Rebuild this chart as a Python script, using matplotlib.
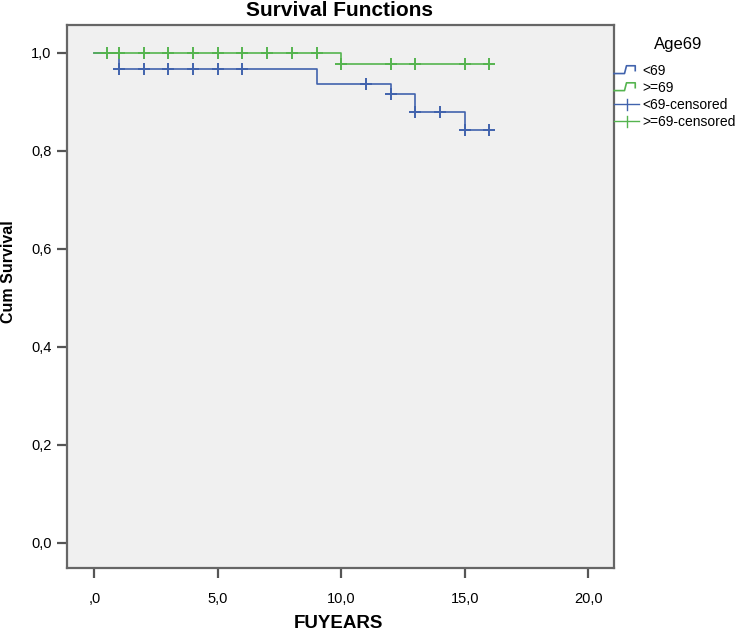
import numpy as np
import matplotlib
matplotlib.use("Agg")
import matplotlib.pyplot as plt
from matplotlib.legend_handler import HandlerBase
from matplotlib.lines import Line2D

plt.rcParams['font.family'] = ['Liberation Sans', 'DejaVu Sans']

# Data (Kaplan-Meier step functions)
young_times = [0, 1, 9, 12, 13, 15, 16]
young_surv = [1.0, 0.968, 0.936, 0.917, 0.880, 0.842, 0.842]
young_censored = [1, 2, 3, 4, 5, 6, 11, 12, 13, 14, 15, 16]

old_times = [0, 10, 16]
old_surv = [1.0, 0.977, 0.977]
old_censored = [0.5, 1, 2, 3, 4, 5, 6, 7, 8, 9, 10, 12, 13, 15, 16]

x_ticks = [0, 5, 10, 15, 20]
x_labels = [",0", "5,0", "10,0", "15,0", "20,0"]
y_ticks = [0.0, 0.2, 0.4, 0.6, 0.8, 1.0]
y_labels = ["0,0", "0,2", "0,4", "0,6", "0,8", "1,0"]

blue = "#4163ad"
green = "#55b44f"

W, H = 742, 633


def surv_at(times, surv, t):
    idx = np.searchsorted(times, t, side='right') - 1
    return np.array(surv)[idx]


fig = plt.figure(figsize=(W / 100, H / 100), dpi=100)
ax = fig.add_axes([66.7 / W, 1 - 568 / H, (614 - 66.7) / W, (568 - 25) / H])
ax.set_facecolor("#f0f0f0")

ax.step(young_times, young_surv, where='post', color=blue, lw=1.2, zorder=3)
ax.step(old_times, old_surv, where='post', color=green, lw=1.2, zorder=3)
ax.plot(young_censored, surv_at(young_times, young_surv, young_censored),
        ls='none', marker='+', ms=9, mew=1.4, color=blue, zorder=4)
ax.plot(old_censored, surv_at(old_times, old_surv, old_censored),
        ls='none', marker='+', ms=9, mew=1.4, color=green, zorder=4)

ax.set_xlim(-1.12, 21.05)
ax.set_ylim(-0.0516, 1.057)
ax.set_xticks(x_ticks)
ax.set_xticklabels(x_labels, fontsize=10.5)
ax.set_yticks(y_ticks)
ax.set_yticklabels(y_labels, fontsize=10.5)
ax.tick_params(axis='both', direction='out', length=7, width=1.6, color="#555555")
ax.tick_params(axis='x', pad=10)
ax.tick_params(axis='y', pad=4)
ax.tick_params(top=False, right=False)
for s in ax.spines.values():
    s.set_color("#666666")
    s.set_linewidth(1.6)

fig.text(339 / W, 1 - 10 / H, "Survival Functions", fontsize=15,
         fontweight='bold', ha='center', va='center')
fig.text(338 / W, 1 - 624 / H, "FUYEARS", fontsize=13.5,
         fontweight='bold', ha='center', va='center')
fig.text(9 / W, 1 - 272 / H, "Cum Survival", fontsize=11.5,
         fontweight='bold', ha='center', va='center', rotation=90)
fig.text(678 / W, 1 - 45 / H, "Age69", fontsize=12, ha='center', va='center')


class StepHandler(HandlerBase):
    def create_artists(self, legend, orig_handle, xdescent, ydescent, width,
                       height, fontsize, trans):
        c = orig_handle.get_color()
        x0 = -xdescent
        y0 = -ydescent
        xs = [x0, x0 + width * 0.42, x0 + width * 0.5, x0 + width * 0.85,
              x0 + width * 0.85]
        ys = [y0 + height * 0.15, y0 + height * 0.15, y0 + height * 0.95,
              y0 + height * 0.95, y0 + height * 0.45]
        return [Line2D(xs, ys, color=c, lw=1.2, transform=trans)]


class CensHandler(HandlerBase):
    def create_artists(self, legend, orig_handle, xdescent, ydescent, width,
                       height, fontsize, trans):
        c = orig_handle.get_color()
        y = -ydescent + height * 0.5
        l1 = Line2D([-xdescent, -xdescent + width], [y, y], color=c, lw=1.0,
                    transform=trans)
        xm = -xdescent + width * 0.5
        l2 = Line2D([xm, xm], [-ydescent - height * 0.05, -ydescent + height * 1.05],
                    color=c, lw=1.0, transform=trans)
        return [l1, l2]


class StepH(Line2D):
    pass


class CensH(Line2D):
    pass


handles = [StepH([], [], color=blue), StepH([], [], color=green),
           CensH([], [], color=blue), CensH([], [], color=green)]
labels = ["<69", ">=69", "<69-censored", ">=69-censored"]

leg = fig.legend(handles, labels,
                 handler_map={StepH: StepHandler(), CensH: CensHandler()},
                 loc='upper left', bbox_to_anchor=(614 / W, 1 - 64 / H),
                 frameon=False, fontsize=10, handlelength=1.8,
                 handletextpad=0.25, labelspacing=0.22, borderpad=0,
                 borderaxespad=0)

fig.savefig("out.png", dpi=100, facecolor="white")
